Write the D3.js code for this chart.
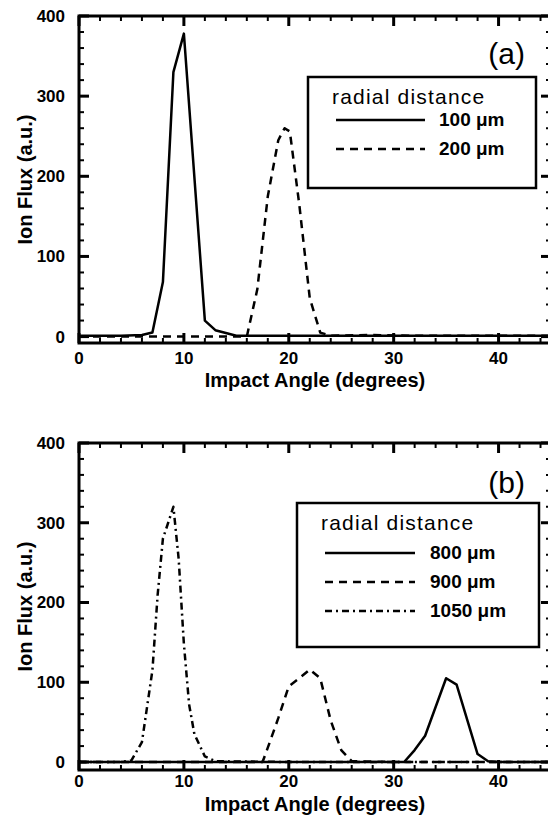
<!DOCTYPE html>
<html>
<head>
<meta charset="utf-8">
<script src="https://cdn.jsdelivr.net/npm/d3@7"></script>
<style>
  body { margin: 0; background: #fff; }
  text { font-family: "Liberation Sans", Arial, sans-serif; fill: #000; }
</style>
</head>
<body>
<div id="chart"></div>
<script>
// panel (a) data
const angle100 = [0, 2, 4, 6, 7, 8, 9, 10, 12, 13, 15, 20, 25, 30, 35, 40, 45];
const flux100  = [1, 1, 1, 2, 5, 68, 330, 378, 20, 8, 1, 1, 1, 1, 1, 1, 1];
const angle200 = [0, 4, 8, 12, 16, 17, 18, 19, 19.6, 20.1, 21, 22, 23, 24, 28, 32, 36, 40, 45];
const flux200  = [0, 0, 0, 0, 0, 59, 175, 245, 260, 256, 165, 48, 5, 1, 2, 1, 1, 1, 1];

// panel (b) data
const angle800  = [0, 10, 20, 30, 31, 32, 33, 35, 36, 38, 39, 40, 45];
const flux800   = [0, 0, 0, 0, 0, 15, 33, 105, 97, 10, 1, 0, 0];
const angle900  = [0, 5, 10, 15, 17.5, 18, 19, 20, 21, 22, 23, 24, 25, 26, 30, 35, 40, 45];
const flux900   = [0, 0, 0, 0, 0, 18, 55, 95, 105, 116, 105, 52, 15, 1, 0, 0, 0, 0];
const angle1050 = [0, 4, 5, 6, 7, 7.5, 8, 9, 9.5, 10, 10.5, 11, 12, 13, 20, 30, 45];
const flux1050  = [0, 0, 2, 25, 115, 210, 280, 320, 255, 148, 72, 35, 7, 1, 0, 0, 0];

const xTicks = [0, 10, 20, 30, 40];
const yTicks = [0, 100, 200, 300, 400];

const W = 548, H = 819;
const svg = d3.select("#chart").append("svg")
    .attr("width", W)
    .attr("height", H);

const dashes = { solid: null, dash: "8,6", dashdot: "7,4,2,4" };

function zip(xs, ys) {
    return xs.map((a, i) => ({ a: a, f: ys[i] }));
}

function drawPanel(p) {
    const g = svg.append("g");
    const x = d3.scaleLinear().domain([0, 45]).range([79, 551]);
    const y = d3.scaleLinear().domain(p.yDomain).range([p.bottom, p.top]);
    const x0 = x.range()[0], x1 = x.range()[1];

    const minorX = d3.range(0, 46, 2).filter(d => d % 10 != 0);
    const minorY = d3.range(20, 400, 20).filter(d => d % 100 != 0);

    // inward ticks on all four sides
    const tk = g.append("g").attr("stroke", "#000");
    function xt(vals, len, w) {
        vals.forEach(v => {
            tk.append("line").attr("x1", x(v)).attr("x2", x(v))
                .attr("y1", p.bottom).attr("y2", p.bottom - len).attr("stroke-width", w);
            tk.append("line").attr("x1", x(v)).attr("x2", x(v))
                .attr("y1", p.top).attr("y2", p.top + len).attr("stroke-width", w);
        });
    }
    function yt(vals, len, w) {
        vals.forEach(v => {
            tk.append("line").attr("y1", y(v)).attr("y2", y(v))
                .attr("x1", x0).attr("x2", x0 + len).attr("stroke-width", w);
            tk.append("line").attr("y1", y(v)).attr("y2", y(v))
                .attr("x1", x1).attr("x2", x1 - len).attr("stroke-width", w);
        });
    }
    xt(xTicks, 10, 3);
    xt(minorX, 5, 2);
    yt(yTicks, 10, 3);
    yt(minorY, 5, 2);

    // tick labels
    g.selectAll(".xl").data(xTicks).join("text")
        .attr("x", d => x(d)).attr("y", p.bottom + p.xLabOff)
        .attr("text-anchor", "middle")
        .style("font-size", "17px").style("font-weight", "bold")
        .text(d => d);
    g.selectAll(".yl").data(yTicks).join("text")
        .attr("x", x0 - 14).attr("y", d => y(d)).attr("dy", "0.35em")
        .attr("text-anchor", "end")
        .style("font-size", "17px").style("font-weight", "bold")
        .text(d => d);

    // frame
    g.append("rect")
        .attr("x", x0).attr("y", p.top)
        .attr("width", x1 - x0).attr("height", p.bottom - p.top)
        .attr("fill", "none").attr("stroke", "#000").attr("stroke-width", 3);

    const line = d3.line().x(d => x(d.a)).y(d => y(d.f));
    p.series.forEach(s => {
        g.append("path")
            .datum(zip(s.angle, s.flux))
            .attr("d", line)
            .attr("fill", "none")
            .attr("stroke", "#000")
            .attr("stroke-width", 2.5)
            .attr("stroke-linejoin", "round")
            .attr("stroke-dasharray", dashes[s.style]);
    });

    // axis titles
    g.append("text")
        .attr("x", 315).attr("y", p.bottom + p.xTitleOff)
        .attr("text-anchor", "middle")
        .style("font-size", "20px").style("font-weight", "bold")
        .text("Impact Angle (degrees)");
    g.append("text")
        .attr("transform", "translate(32," + ((p.top + p.bottom) / 2) + ") rotate(-90)")
        .attr("text-anchor", "middle")
        .style("font-size", "20px").style("font-weight", "bold")
        .text("Ion Flux (a.u.)");

    // panel label
    g.append("text")
        .attr("x", 525).attr("y", p.labelY)
        .attr("text-anchor", "end")
        .style("font-size", "30px")
        .text(p.label);

    // legend
    const L = p.legend;
    g.append("rect")
        .attr("x", L.x).attr("y", L.y)
        .attr("width", L.w).attr("height", L.h)
        .attr("fill", "#fff").attr("stroke", "#000").attr("stroke-width", 2.5);
    g.append("text")
        .attr("x", L.x + 24).attr("y", L.y + 27)
        .style("font-size", "21px").style("letter-spacing", "1.2px")
        .text("radial distance");
    p.series.forEach((s, i) => {
        const ly = L.y + L.row0 + i * L.step;
        g.append("line")
            .attr("x1", L.x + L.lx0).attr("x2", L.x + L.lx1)
            .attr("y1", ly).attr("y2", ly)
            .attr("stroke", "#000").attr("stroke-width", 2.5)
            .attr("stroke-dasharray", dashes[s.style]);
        g.append("text")
            .attr("x", L.x + L.tx).attr("y", ly + 6)
            .style("font-size", "19px").style("font-weight", "bold")
            .text(s.name);
    });
}

drawPanel({
    top: 16, bottom: 343, yDomain: [-8, 400], xLabOff: 21, xTitleOff: 44,
    label: "(a)", labelY: 64,
    legend: { x: 308, y: 77, w: 228, h: 111, row0: 43, step: 29, lx0: 28, lx1: 117, tx: 131 },
    series: [
        { name: "100 \u03bcm", angle: angle100, flux: flux100, style: "solid" },
        { name: "200 \u03bcm", angle: angle200, flux: flux200, style: "dash" }
    ]
});

drawPanel({
    top: 443, bottom: 770, yDomain: [-10, 400], xLabOff: 17, xTitleOff: 41,
    label: "(b)", labelY: 493,
    legend: { x: 297, y: 503, w: 242, h: 144, row0: 50, step: 29, lx0: 28, lx1: 118, tx: 133 },
    series: [
        { name: "800 \u03bcm", angle: angle800, flux: flux800, style: "solid" },
        { name: "900 \u03bcm", angle: angle900, flux: flux900, style: "dash" },
        { name: "1050 \u03bcm", angle: angle1050, flux: flux1050, style: "dashdot" }
    ]
});
</script>
</body>
</html>
